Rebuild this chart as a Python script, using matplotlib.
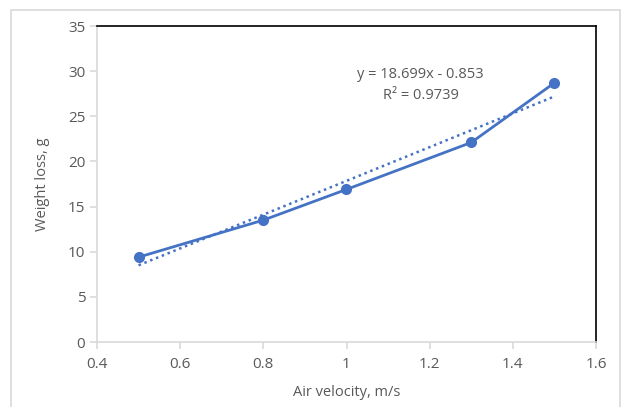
import matplotlib
matplotlib.use("Agg")
import matplotlib.pyplot as plt
import numpy as np
from matplotlib.patches import Rectangle

velocity = [0.5, 0.8, 1.0, 1.3, 1.5]
weight_loss = [9.4, 13.5, 16.9, 22.1, 28.7]
slope, intercept = 18.699, -0.853
eq_text = "y = 18.699x - 0.853"
r2_text = "R² = 0.9739"

plt.rcParams['font.family'] = ['Open Sans', 'DejaVu Sans']
grey = "#595959"
blue = "#4472C4"

fig = plt.figure(figsize=(6.25, 4.07), dpi=100)
fig.patches.append(Rectangle((11/625, -0.01), 609/625, 1 - 10/407 + 0.01,
                             transform=fig.transFigure, fill=False,
                             edgecolor="#d9d9d9", linewidth=1.2))
ax = fig.add_axes([97/625, 1 - 342/407, 499/625, 316/407])

ax.plot(velocity, weight_loss, "o-", color=blue, linewidth=2, markersize=7, zorder=3)
tx = np.array([min(velocity), max(velocity)])
ax.plot(tx, slope * tx + intercept, linestyle=(0, (1, 1.5)), color=blue, linewidth=1.8, zorder=2)

ax.text(1.178, 29.6, eq_text, ha="center", va="center", fontsize=10.5, color=grey)
ax.text(1.178, 27.25, r2_text, ha="center", va="center", fontsize=10.5, color=grey)

ax.set_xlim(0.4, 1.6)
ax.set_ylim(0, 35)
ax.set_xticks(np.arange(0.4, 1.61, 0.2))
ax.set_xticklabels(["0.4", "0.6", "0.8", "1", "1.2", "1.4", "1.6"])
ax.set_yticks(range(0, 36, 5))
ax.set_xlabel("Air velocity, m/s", fontsize=10.5, color=grey, labelpad=9)
ax.set_ylabel("Weight loss, g", fontsize=10.5, color=grey, labelpad=13)
ax.tick_params(axis="both", colors="#d9d9d9", labelcolor=grey, labelsize=11,
               length=5, width=1.2, direction="out")
ax.tick_params(axis="x", pad=6)
for s in ["left", "bottom"]:
    ax.spines[s].set_color("#d9d9d9"); ax.spines[s].set_linewidth(1.2)
for s in ["top", "right"]:
    ax.spines[s].set_color("black"); ax.spines[s].set_linewidth(1.2)

fig.savefig("out.png", dpi=100)
